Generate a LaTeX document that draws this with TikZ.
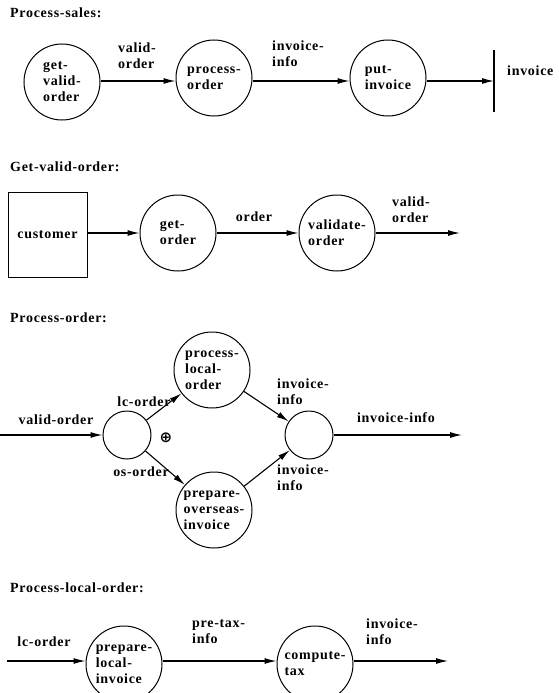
\documentclass[tikz,border=0pt]{standalone}
\usepackage{fontspec}
\setmainfont{Liberation Serif}[LetterSpace=5]
\newfontfamily\symbfont{DejaVu Sans}
\usetikzlibrary{arrows.meta}
\tikzset{
  lbl/.style={font=\fontsize{14}{16}\selectfont\bfseries, inner sep=0pt, align=left},
  proc/.style={lbl, circle, draw, line width=1pt, minimum size=76pt},
  joint/.style={circle, draw, line width=1pt, minimum size=48pt, inner sep=0pt},
  flow/.style={line width=1.1pt, -{Latex[length=12pt,width=6pt]}},
}

\begin{document}
\begin{tikzpicture}[x=1pt,y=-1pt]
    \useasboundingbox (0,0) rectangle (559,693);

    % Process-sales
    \node[lbl, anchor=west] (tsales) at (10,13) {Process-sales:};
    \node[proc] (gvo) at (62,82) {get-\\valid-\\order};
    \node[proc] (po) at (214,78) {process-\\order};
    \node[proc] (pi) at (388,78) {put-\\invoice};
    \coordinate (sink) at (494,81);
    \draw[line width=1.2pt] (494,50) -- (494,112);
    \draw[flow] (gvo.east |- sink) -- (po.west |- sink);
    \draw[flow] (po.east |- sink) -- (pi.west |- sink);
    \draw[flow] (pi.east |- sink) -- (sink);
    \node[lbl] (lvalid) at (137,56) {valid-\\order};
    \node[lbl, anchor=west] (linfo) at (272,54) {invoice-\\info};
    \node[lbl, anchor=west] (linv) at (507,71) {invoice};

    % Get-valid-order
    \node[lbl, anchor=west] (tget) at (10,167) {Get-valid-order:};
    \node[lbl, draw, line width=1pt, minimum width=79pt, minimum height=85pt] (cust) at (47.5,235) {customer};
    \node[proc] (go) at (178,233) {get-\\order};
    \node[proc] (vo) at (337,233) {validate-\\order};
    \coordinate (vout) at (460,233);
    \draw[flow] (cust.east |- go) -- (go);
    \draw[flow] (go) -- (vo);
    \draw[flow] (vo) -- (vout);
    \node[lbl] (lorder) at (254,217) {order};
    \node[lbl] (lvalid2) at (411,210) {valid-\\order};

    % Process-order
    \node[lbl, anchor=west] (tproc) at (10,318) {Process-order:};
    \node[joint] (split) at (127,435) {};
    \node[joint] (merge) at (309,435) {};
    \node[proc] (plo) at (212,370) {process-\\local-\\order};
    \node[proc] (poi) at (214,510) {prepare-\\overseas-\\invoice};
    \coordinate (pin) at (0,435);
    \coordinate (pout) at (462,435);
    \draw[flow] (pin) -- (split);
    \draw[flow] (split) -- (plo);
    \draw[flow] (split) -- (poi);
    \draw[flow] (plo) -- (merge);
    \draw[flow] (poi) -- (merge);
    \draw[flow] (merge) -- (pout);
    \node[lbl] (lvo) at (56,420) {valid-order};
    \node[lbl] (llc) at (144,402) {lc-order};
    \node[lbl] (los) at (141,472) {os-order};
    \node[font=\symbfont\bfseries\fontsize{15}{15}\selectfont, inner sep=0pt] (xor) at (166,438) {⊕};
    \node[lbl, anchor=west] (lii1) at (277,392) {invoice-\\info};
    \node[lbl, anchor=west] (lii2) at (277,478) {invoice-\\info};
    \node[lbl] (lii3) at (396,418) {invoice-info};

    % Process-local-order
    \node[lbl, anchor=west] (tlocal) at (10,588) {Process-local-order:};
    \node[proc] (pli) at (124,664) {prepare-\\local-\\invoice};
    \node[proc] (ct) at (315,664) {compute-\\tax};
    \coordinate (lin) at (7,661);
    \coordinate (lout) at (448,661);
    \draw[flow] (lin) -- (pli.west |- lin);
    \draw[flow] (pli.east |- lin) -- (ct.west |- lin);
    \draw[flow] (ct.east |- lin) -- (lout);
    \node[lbl] (llc2) at (44,642) {lc-order};
    \node[lbl, anchor=west] (lpre) at (192,632) {pre-tax-\\info};
    \node[lbl, anchor=west] (lii4) at (366,632) {invoice-\\info};
\end{tikzpicture}
\end{document}
